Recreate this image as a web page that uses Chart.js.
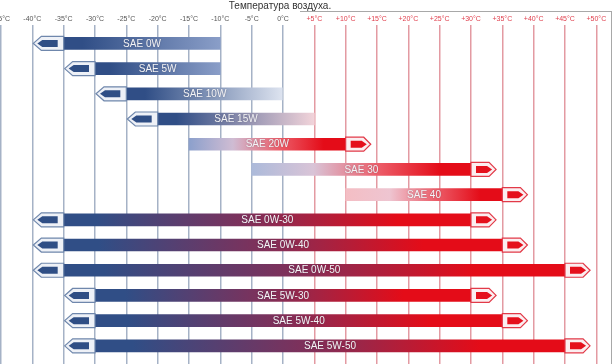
<!DOCTYPE html>
<html>
<head>
<meta charset="utf-8">
<script src="https://cdn.jsdelivr.net/npm/chart.js@4.4.0/dist/chart.umd.min.js"></script>
<style>
  html, body { margin: 0; padding: 0; background: #fff; }
</style>
</head>
<body>
<canvas id="myChart" width="614" height="364"></canvas>
<script>
// oil grades, top to bottom
const grades = [
  "SAE 0W", "SAE 5W", "SAE 10W", "SAE 15W", "SAE 20W", "SAE 30", "SAE 40",
  "SAE 0W-30", "SAE 0W-40", "SAE 0W-50", "SAE 5W-30", "SAE 5W-40", "SAE 5W-50"
];
// bar body in °C (arrow heads are drawn on top of these ends)
const bodyFrom = [-35, -30, -25, -20, -15, -5, 10, -35, -35, -35, -30, -30, -30];
const bodyTo = [-10, -10, 0, 5, 10, 30, 35, 30, 35, 45, 30, 35, 45];
// which ends carry an arrow head: cold (left) / hot (right)
const coldArrow = [1, 1, 1, 1, 0, 0, 0, 1, 1, 1, 1, 1, 1];
const hotArrow = [0, 0, 0, 0, 1, 1, 1, 1, 1, 1, 1, 1, 1];
const tempTicks = [-45, -40, -35, -30, -25, -20, -15, -10, -5, 0, 5, 10, 15, 20, 25, 30, 35, 40, 45, 50];
const axisMin = -45;
const axisMax = 52.5;
const chartTitle = "Температура воздуха.";

const BLUE = [48, 78, 134];
const PURPLE = [138, 44, 84];
const RED = [228, 12, 24];

const rgb = (c) => `rgb(${c.map(Math.round).join(",")})`;
const mix = (a, b, t) => a.map((v, k) => v + (b[k] - v) * t);

// pale tint used at the "mild" end of single grade bars
function pale(t) {
  const stops = [[-15, [140, 160, 204]], [-10, [138, 158, 200]], [-5, [172, 186, 218]],
    [0, [222, 228, 240]], [5, [242, 212, 218]], [10, [244, 190, 196]]];
  if (t <= stops[0][0]) return stops[0][1];
  for (let k = 1; k < stops.length; k++) {
    if (t <= stops[k][0]) {
      const a = stops[k - 1], b = stops[k];
      return mix(a[1], b[1], (t - a[0]) / (b[0] - a[0]));
    }
  }
  return stops[stops.length - 1][1];
}

function barFill(ctx) {
  const chart = ctx.chart;
  if (!chart.chartArea) return rgb(PURPLE);
  const i = ctx.dataIndex;
  const xs = chart.scales.x;
  const x0 = xs.getPixelForValue(bodyFrom[i]);
  const x1 = xs.getPixelForValue(bodyTo[i]);
  const g = chart.ctx.createLinearGradient(x0, 0, x1, 0);
  if (coldArrow[i] && hotArrow[i]) {
    g.addColorStop(0, rgb(BLUE));
    g.addColorStop(0.08, rgb(BLUE));
    g.addColorStop(0.5, rgb(PURPLE));
    g.addColorStop(0.82, rgb(RED));
    g.addColorStop(1, rgb(RED));
  } else if (coldArrow[i]) {
    g.addColorStop(0, rgb(BLUE));
    g.addColorStop(0.12, rgb(BLUE));
    g.addColorStop(1, rgb(pale(bodyTo[i])));
  } else {
    const p = pale(bodyFrom[i]);
    g.addColorStop(0, rgb(p));
    g.addColorStop(0.28, rgb(mix(p, [236, 200, 214], 0.7)));
    g.addColorStop(0.58, rgb([236, 92, 104]));
    g.addColorStop(0.86, rgb(RED));
    g.addColorStop(1, rgb(RED));
  }
  return g;
}

function coldHead(c, xBody, xTip, y, h) {
  const top = y - h / 2 - 1, bot = y + h / 2 + 1;
  c.beginPath();
  c.moveTo(xTip, y);
  c.lineTo(xTip + 8, top);
  c.lineTo(xBody, top);
  c.lineTo(xBody, bot);
  c.lineTo(xTip + 8, bot);
  c.closePath();
  c.fillStyle = "#eef1f7";
  c.fill();
  c.lineWidth = 1.2;
  c.strokeStyle = "#6f87ac";
  c.stroke();
  c.beginPath();
  c.moveTo(xTip + 4, y);
  c.lineTo(xTip + 9, y - 3.5);
  c.lineTo(xBody - 6, y - 3.5);
  c.lineTo(xBody - 6, y + 3.5);
  c.lineTo(xTip + 9, y + 3.5);
  c.closePath();
  c.fillStyle = "#2f4e85";
  c.fill();
}

function hotHead(c, xBody, xTip, y, h) {
  const top = y - h / 2 - 1, bot = y + h / 2 + 1;
  c.beginPath();
  c.moveTo(xTip, y);
  c.lineTo(xTip - 7, top);
  c.lineTo(xBody, top);
  c.lineTo(xBody, bot);
  c.lineTo(xTip - 7, bot);
  c.closePath();
  c.fillStyle = "#fbeef0";
  c.fill();
  c.lineWidth = 1.2;
  c.strokeStyle = "#e23a48";
  c.stroke();
  c.beginPath();
  c.moveTo(xTip - 4, y);
  c.lineTo(xTip - 9, y - 3.5);
  c.lineTo(xBody + 5, y - 3.5);
  c.lineTo(xBody + 5, y + 3.5);
  c.lineTo(xTip - 9, y + 3.5);
  c.closePath();
  c.fillStyle = "#e5101c";
  c.fill();
}

const decorations = {
  id: "decorations",
  beforeDraw(chart) {
    const c = chart.ctx;
    const area = chart.chartArea;
    c.save();
    c.font = "10px 'Liberation Sans', Arial, sans-serif";
    c.fillStyle = "#333";
    c.textAlign = "center";
    c.textBaseline = "middle";
    c.fillText(chartTitle, 280, 6);
    c.strokeStyle = "#a8a8a8";
    c.lineWidth = 1;
    c.beginPath();
    c.moveTo(300, 11.5);
    c.lineTo(area.right, 11.5);
    c.moveTo(area.right - 0.5, 11.5);
    c.lineTo(area.right - 0.5, chart.height);
    c.stroke();
    c.restore();
  },
  afterDatasetsDraw(chart) {
    const c = chart.ctx;
    const xs = chart.scales.x;
    const meta = chart.getDatasetMeta(0);
    c.save();
    meta.data.forEach((bar, i) => {
      const h = bar.height;
      if (coldArrow[i]) {
        const xb = xs.getPixelForValue(bodyFrom[i]);
        coldHead(c, xb, xs.getPixelForValue(bodyFrom[i] - 5) + 1, bar.y, h);
      }
      if (hotArrow[i]) {
        const xb = xs.getPixelForValue(bodyTo[i]);
        hotHead(c, xb, xs.getPixelForValue(bodyTo[i] + 4), bar.y, h);
      }
    });
    c.font = "10px 'Liberation Sans', Arial, sans-serif";
    c.textAlign = "center";
    c.textBaseline = "middle";
    c.shadowColor = "rgba(60,60,80,0.45)";
    c.shadowBlur = 1.5;
    c.fillStyle = "#f4f4f6";
    meta.data.forEach((bar, i) => {
      const cx = (xs.getPixelForValue(bodyFrom[i]) + xs.getPixelForValue(bodyTo[i])) / 2;
      c.fillText(grades[i], cx, bar.y + 0.5);
    });
    c.restore();
  }
};

const ctx = document.querySelector("#myChart").getContext("2d");

const myChart = new Chart(ctx, {
  type: "bar",
  data: {
    datasets: [{
      data: grades.map((g, i) => ({ x: [bodyFrom[i], bodyTo[i]], y: i })),
      backgroundColor: barFill,
      borderWidth: 0,
      borderSkipped: false,
      barThickness: 12,
      grouped: false
    }]
  },
  options: {
    indexAxis: "y",
    responsive: false,
    animation: false,
    events: [],
    layout: { padding: { top: 13, left: 1, right: 2, bottom: 0 } },
    plugins: {
      legend: { display: false },
      title: { display: false },
      tooltip: { enabled: false }
    },
    scales: {
      x: {
        type: "linear",
        position: "top",
        min: axisMin,
        max: axisMax,
        afterBuildTicks: (scale) => {
          scale.ticks = tempTicks.map((v) => ({ value: v }));
        },
        afterFit: (scale) => {
          scale.height = 12;
          scale.paddingLeft = 0;
          scale.paddingRight = 0;
        },
        border: { display: false },
        grid: {
          drawTicks: false,
          lineWidth: 1.5,
          color: (c) => (c.tick && c.tick.value > 0 ? "#e39aa2" : "#a5b2c6")
        },
        ticks: {
          padding: 2,
          autoSkip: false,
          maxRotation: 0,
          font: { size: 7, family: "'Liberation Sans', Arial, sans-serif" },
          color: (c) => (c.tick && c.tick.value > 0 ? "#e0404e" : "#555"),
          callback: (v) => (v > 0 ? "+" : "") + v + "°C"
        }
      },
      y: {
        type: "linear",
        display: false,
        offset: false,
        grid: { offset: false },
        reverse: true,
        min: -0.73,
        max: 12.72
      }
    }
  },
  plugins: [decorations]
});
</script>
</body>
</html>
